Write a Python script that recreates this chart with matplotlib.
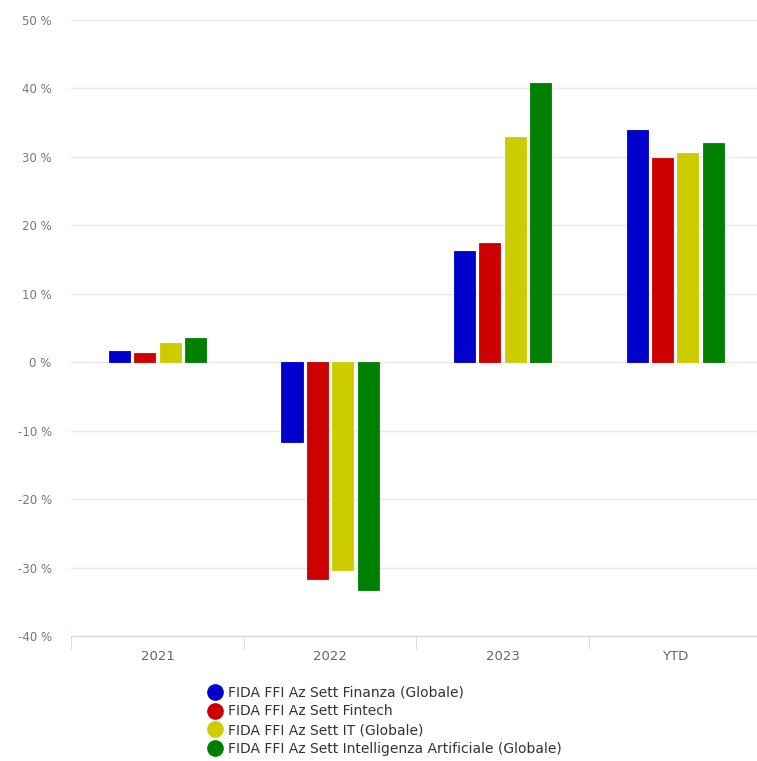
import matplotlib.pyplot as plt
import numpy as np
from matplotlib.lines import Line2D
from matplotlib.ticker import FuncFormatter

plt.rcParams['font.family'] = ['DejaVu Sans']

periodi = ["2021", "2022", "2023", "YTD"]
fondi = [
    "FIDA FFI Az Sett Finanza (Globale)",
    "FIDA FFI Az Sett Fintech",
    "FIDA FFI Az Sett IT (Globale)",
    "FIDA FFI Az Sett Intelligenza Artificiale (Globale)",
]
finanza = [1.6, -11.6, 16.2, 33.9]
fintech = [1.4, -31.7, 17.4, 29.8]
it_globale = [2.8, -30.4, 32.9, 30.6]
intelligenza_art = [3.5, -33.2, 40.8, 32.0]
colori = ["#0000cc", "#cc0000", "#cccc00", "#008000"]

serie = [finanza, fintech, it_globale, intelligenza_art]

fig = plt.figure(figsize=(7.57, 7.61), dpi=100)
ax = fig.add_axes([0.094, 0.164, 0.912, 0.81])

x = np.arange(len(periodi))
passo = 0.147
larghezza = 0.122
for i, (valori, col) in enumerate(zip(serie, colori)):
    ax.bar(x + (i - 1.5) * passo, valori, width=larghezza, color=col,
           edgecolor=col, linewidth=0.6, zorder=3)

ax.set_xlim(-0.5, len(periodi) - 0.5)
ax.set_ylim(-40, 50)
ax.set_yticks(range(-40, 51, 10))
ax.yaxis.set_major_formatter(FuncFormatter(lambda v, _: f"{v:.0f} %"))
ax.grid(axis='y', color='#e9e9e9', linewidth=1, zorder=0)

for s in ['top', 'right', 'left']:
    ax.spines[s].set_visible(False)
ax.spines['bottom'].set_color('#ccd6eb')

ax.set_xticks(x)
ax.set_xticklabels(periodi)
ax.set_xticks(np.arange(-0.5, len(periodi), 1), minor=True)
ax.tick_params(axis='x', which='major', length=0, pad=10, labelsize=9.5,
               labelcolor='#666666')
ax.tick_params(axis='x', which='minor', length=9, color='#ccd6eb')
ax.tick_params(axis='y', length=0, pad=14, labelsize=8.5, labelcolor='#777777')

maniglie = [Line2D([0], [0], marker='o', linestyle='none', markersize=11,
                   markerfacecolor=c, markeredgecolor=c) for c in colori]
fig.legend(maniglie, fondi, loc='upper left', bbox_to_anchor=(0.268, 0.106),
           frameon=False, fontsize=10, labelcolor='#333333',
           handletextpad=0.5, labelspacing=0.33, borderaxespad=0,
           handlelength=0.9)

fig.savefig("out.png", dpi=100)
